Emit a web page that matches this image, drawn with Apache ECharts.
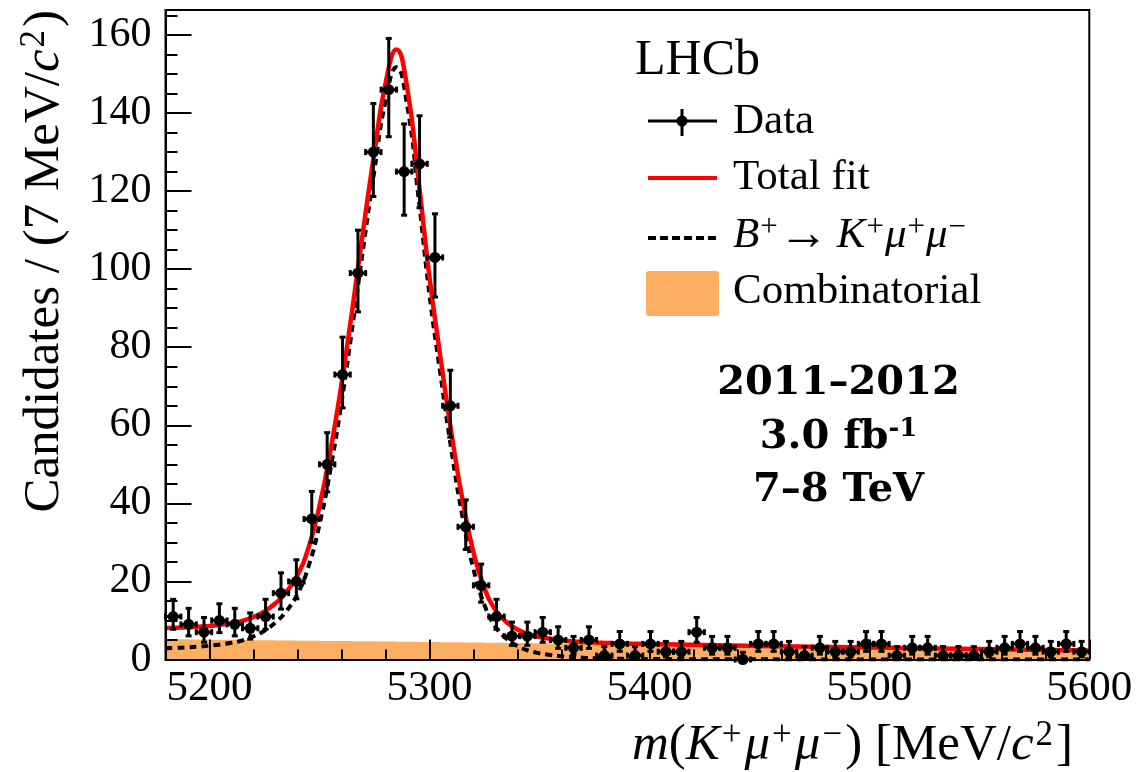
<!DOCTYPE html>
<html>
<head>
<meta charset="utf-8">
<script src="https://cdn.jsdelivr.net/npm/echarts@6/dist/echarts.min.js"></script>
<style>
  html, body { margin: 0; padding: 0; background: #fff; }
  #chart { width: 1138px; height: 772px; }
</style>
</head>
<body>
<div id="chart"></div>
<script>
// Binning of the K+ mu+ mu- invariant mass spectrum
const BIN_LO = 5180;
const BIN_W = 7;

// Candidates per 7 MeV/c^2 bin, starting at 5180 MeV/c^2
const counts = [
  11, 9, 7, 10, 9, 8, 11, 17, 20, 36,
  50, 73, 99, 130, 146, 125, 127, 103, 65, 34,
  19, 11, 6, 6, 7, 5, 3, 5, 1, 4,
  1, 4, 2, 2, 7, 3, 3, 0, 4, 4,
  2, 1, 3, 2, 2, 4, 4, 1, 3, 3,
  1, 1, 1, 2, 3, 4, 3, 2, 4, 2
];

// Fit projections sampled in mass (MeV/c^2)
const fitMass = [
  5180, 5185, 5190, 5195, 5200, 5205, 5210, 5215, 5220, 5225,
  5230, 5235, 5240, 5245, 5250, 5255, 5260, 5265, 5270, 5275,
  5280, 5285, 5290, 5295, 5300, 5305, 5310, 5315, 5320, 5325,
  5330, 5335, 5340, 5345, 5350, 5355, 5360, 5365, 5370, 5375,
  5380, 5385, 5390, 5395, 5400, 5450, 5500, 5550, 5600
];
const fitTotal = [
  8.1, 8.15, 8.25, 8.4, 8.6, 8.9, 9.3, 9.9, 10.9, 12.3,
  14.4, 17.3, 21.6, 28.6, 39.3, 53.5, 70.5, 90.0, 110.5, 130.0,
  147.5, 156.3, 146.0, 123.0, 98.0, 77.5, 58.0, 41.0, 27.5, 18.3,
  12.7, 9.6, 7.7, 6.5, 5.75, 5.3, 4.95, 4.7, 4.5, 4.35,
  4.25, 4.15, 4.08, 4.02, 3.96, 3.47, 3.06, 2.67, 2.3
];
const fitSignal = [
  2.9, 2.98, 3.11, 3.29, 3.52, 3.85, 4.28, 4.91, 5.95, 7.38,
  9.51, 12.44, 16.77, 23.8, 34.53, 48.76, 65.79, 85.32, 105.85, 125.38,
  142.91, 151.74, 141.48, 118.51, 93.54, 73.07, 53.6, 36.63, 23.16, 13.99,
  8.42, 5.35, 3.48, 2.31, 1.59, 1.17, 0.86, 0.64, 0.47, 0.35,
  0.28, 0.21, 0.17, 0.14, 0.11, 0.04, 0.01, 0.0, 0.0
];
const fitComb = [
  5.20, 5.17, 5.14, 5.11, 5.08, 5.05, 5.02, 4.99, 4.95, 4.92,
  4.89, 4.86, 4.83, 4.80, 4.77, 4.74, 4.71, 4.68, 4.65, 4.62,
  4.59, 4.56, 4.52, 4.49, 4.46, 4.43, 4.40, 4.37, 4.34, 4.31,
  4.28, 4.25, 4.22, 4.19, 4.16, 4.13, 4.09, 4.06, 4.03, 4.00,
  3.97, 3.94, 3.91, 3.88, 3.85, 3.43, 3.05, 2.67, 2.3
];

// Axis ticks
const xTicks = [5200, 5300, 5400, 5500, 5600];
const yTicks = [0, 20, 40, 60, 80, 100, 120, 140, 160];
const X_MIN = 5180, X_MAX = 5600, Y_MAX = 166.4;

const xMinor = [];
for (let v = X_MIN; v <= X_MAX; v += 20) if (xTicks.indexOf(v) < 0) xMinor.push(v);
const yMinor = [];
for (let v = 5; v < Y_MAX; v += 5) if (yTicks.indexOf(v) < 0) yMinor.push(v);

// Central 68.3% Poisson interval for an observed count
function poissonCdf(k, mu) {
  let term = Math.exp(-mu), sum = term;
  for (let i = 1; i <= k; i++) { term *= mu / i; sum += term; }
  return sum;
}
function solveMu(k, target) {
  let a = 0, b = k + 12 * Math.sqrt(k + 1) + 10;
  for (let it = 0; it < 80; it++) {
    const c = 0.5 * (a + b);
    if (poissonCdf(k, c) > target) a = c; else b = c;
  }
  return 0.5 * (a + b);
}
function poissonInterval(n) {
  const alpha = 0.1586553;
  const hi = solveMu(n, alpha);
  const lo = n > 0 ? solveMu(n - 1, 1 - alpha) : 0;
  return [lo, hi];
}

const dataPoints = counts.map((n, i) => {
  const m = BIN_LO + BIN_W * (i + 0.5);
  const iv = poissonInterval(n);
  return [m, n, iv[0], iv[1]];
});

const curve = (ys) => fitMass.map((m, i) => [m, ys[i]]);

const SERIF = 'Liberation Serif';
const ORANGE = '#fcae62';

const chart = echarts.init(document.getElementById('chart'), null, { renderer: 'canvas' });

// axes sit above the filled background so the inner ticks stay visible
const axisCommon = {
  type: 'value',
  z: 10,
  splitLine: { show: false },
  axisPointer: { show: false }
};

const titleRich = {
  a: { fontFamily: SERIF, fontSize: 51, lineHeight: 56, color: '#000' },
  i: { fontFamily: SERIF, fontSize: 51, lineHeight: 56, fontStyle: 'italic', color: '#000' },
  s: { fontFamily: SERIF, fontSize: 35, lineHeight: 34, verticalAlign: 'top', padding: [0, 3, 0, 2], color: '#000' }
};
const legRich = {
  a: { fontFamily: SERIF, fontSize: 43, lineHeight: 48, color: '#000' },
  i: { fontFamily: SERIF, fontSize: 43, lineHeight: 48, fontStyle: 'italic', color: '#000' },
  r: { fontFamily: SERIF, fontSize: 50, lineHeight: 48, padding: [0, 8, 0, 0], color: '#000' },
  s: { fontFamily: SERIF, fontSize: 31, lineHeight: 31, verticalAlign: 'top', padding: [0, 1, 0, 1], color: '#000' }
};

const option = {
  animation: false,
  backgroundColor: '#fff',
  grid: {
    left: 165.5, right: 48.7, top: 10, bottom: 112.5,
    show: true, borderColor: '#000', borderWidth: 2, backgroundColor: 'transparent'
  },
  xAxis: [
    Object.assign({}, axisCommon, {
      min: X_MIN, max: X_MAX,
      axisLine: { show: true, onZero: false, lineStyle: { color: '#000', width: 2 } },
      axisTick: { show: true, inside: true, length: 20, customValues: xTicks, lineStyle: { color: '#000', width: 2 } },
      axisLabel: {
        show: true, customValues: xTicks, margin: 8,
        fontFamily: SERIF, fontSize: 43, color: '#000',
        formatter: (v) => String(v)
      }
    }),
    Object.assign({}, axisCommon, {
      min: X_MIN, max: X_MAX, position: 'bottom',
      axisLine: { show: false },
      axisTick: { show: true, inside: true, length: 10, customValues: xMinor, lineStyle: { color: '#000', width: 2 } },
      axisLabel: { show: false }
    })
  ],
  yAxis: [
    Object.assign({}, axisCommon, {
      min: 0, max: Y_MAX,
      axisLine: { show: true, onZero: false, lineStyle: { color: '#000', width: 2 } },
      axisTick: { show: true, inside: true, length: 26, customValues: yTicks, lineStyle: { color: '#000', width: 2 } },
      axisLabel: {
        show: true, customValues: yTicks, margin: 14,
        fontFamily: SERIF, fontSize: 42, color: '#000',
        formatter: (v) => String(v)
      }
    }),
    Object.assign({}, axisCommon, {
      min: 0, max: Y_MAX, position: 'left',
      axisLine: { show: false },
      axisTick: { show: true, inside: true, length: 12, customValues: yMinor, lineStyle: { color: '#000', width: 2 } },
      axisLabel: { show: false }
    })
  ],
  series: [
    {
      name: 'Combinatorial', type: 'line', data: curve(fitComb),
      smooth: 0.5, symbol: 'none', z: 1,
      lineStyle: { width: 0 },
      areaStyle: { color: ORANGE, opacity: 1, origin: 'start' }
    },
    {
      name: 'B+ -> K+ mu+ mu-', type: 'line', data: curve(fitSignal),
      smooth: 0.5, symbol: 'none', z: 2,
      lineStyle: { color: '#000', width: 4, type: [7, 5] }
    },
    {
      name: 'Total fit', type: 'line', data: curve(fitTotal),
      smooth: 0.5, symbol: 'none', z: 3,
      lineStyle: { color: '#ff0000', width: 4.5 }
    },
    {
      name: 'Data', type: 'custom', z: 4,
      data: dataPoints,
      encode: { x: 0, y: 1 },
      renderItem: function (params, api) {
        const m = api.value(0), n = api.value(1), lo = api.value(2), hi = api.value(3);
        const c = api.coord([m, n]);
        const yLo = api.coord([m, lo])[1];
        const yHi = api.coord([m, hi])[1];
        const xl = api.coord([m - BIN_W / 2, n])[0];
        const xr = api.coord([m + BIN_W / 2, n])[0];
        const st = { stroke: '#000', lineWidth: 3 };
        const seg = (x1, y1, x2, y2) => ({ type: 'line', shape: { x1, y1, x2, y2 }, style: st });
        const cap = 3;
        return {
          type: 'group',
          children: [
            seg(c[0], yHi, c[0], yLo),
            seg(xl, c[1], xr, c[1]),
            seg(c[0] - cap, yHi, c[0] + cap, yHi),
            seg(c[0] - cap, yLo, c[0] + cap, yLo),
            seg(xl, c[1] - cap, xl, c[1] + cap),
            seg(xr, c[1] - cap, xr, c[1] + cap),
            { type: 'circle', shape: { cx: c[0], cy: c[1], r: 5.5 }, style: { fill: '#000' } }
          ]
        };
      }
    }
  ],
  graphic: [
    // axis titles
    {
      type: 'text', x: 45, y: 10, rotation: Math.PI / 2, z: 10,
      style: {
        text: '{a|Candidates / (7 MeV/}{i|c}{s|2}{a|)}',
        rich: titleRich, align: 'right', verticalAlign: 'middle'
      }
    },
    {
      type: 'text', x: 1073, y: 746, z: 10,
      style: {
        text: '{i|m}{a|(}{i|K}{s|+}{i|μ}{s|+}{i|μ}{s|−}{a|) [MeV/}{i|c}{s|2}{a|]}',
        rich: titleRich, align: 'right', verticalAlign: 'middle'
      }
    },
    // legend
    {
      type: 'text', x: 635, y: 60.5, z: 10,
      style: { text: 'LHCb', fontFamily: SERIF, fontSize: 50, fill: '#000', align: 'left', verticalAlign: 'middle' }
    },
    { type: 'line', z: 10, shape: { x1: 648, y1: 121, x2: 717, y2: 121 }, style: { stroke: '#000', lineWidth: 3 } },
    { type: 'line', z: 10, shape: { x1: 682, y1: 109, x2: 682, y2: 136 }, style: { stroke: '#000', lineWidth: 3 } },
    { type: 'circle', z: 10, shape: { cx: 682, cy: 121, r: 5.5 }, style: { fill: '#000' } },
    {
      type: 'text', x: 733, y: 121.5, z: 10,
      style: { text: 'Data', fontFamily: SERIF, fontSize: 43, fill: '#000', align: 'left', verticalAlign: 'middle' }
    },
    { type: 'line', z: 10, shape: { x1: 648, y1: 178, x2: 717, y2: 178 }, style: { stroke: '#ff0000', lineWidth: 4 } },
    {
      type: 'text', x: 733, y: 178, z: 10,
      style: { text: 'Total fit', fontFamily: SERIF, fontSize: 43, fill: '#000', align: 'left', verticalAlign: 'middle' }
    },
    { type: 'line', z: 10, shape: { x1: 648, y1: 238, x2: 717, y2: 238 }, style: { stroke: '#000', lineWidth: 4, lineDash: [8, 4] } },
    {
      type: 'text', x: 733, y: 236, z: 10,
      style: {
        text: '{i|B}{s|+}{r|→}{i|K}{s|+}{i|μ}{s|+}{i|μ}{s|−}',
        rich: legRich, align: 'left', verticalAlign: 'middle'
      }
    },
    { type: 'rect', z: 10, shape: { x: 646, y: 271, width: 73, height: 45, r: 3 }, style: { fill: ORANGE } },
    {
      type: 'text', x: 733, y: 292, z: 10,
      style: { text: 'Combinatorial', fontFamily: SERIF, fontSize: 43, fill: '#000', align: 'left', verticalAlign: 'middle' }
    },
    // dataset annotation
    {
      type: 'text', x: 838.5, y: 384, z: 10,
      style: { text: '2011–2012', fontFamily: 'DejaVu Serif', fontWeight: 'bold', fontSize: 40, fill: '#000', align: 'center', verticalAlign: 'middle' }
    },
    {
      type: 'text', x: 838.5, y: 438, z: 10,
      style: {
        text: '{b|3.0 fb}{s|-1}',
        rich: {
          b: { fontFamily: 'DejaVu Serif', fontWeight: 'bold', fontSize: 40, lineHeight: 44, color: '#000' },
          s: { fontFamily: 'DejaVu Serif', fontWeight: 'bold', fontSize: 26, lineHeight: 26, verticalAlign: 'top', color: '#000' }
        },
        align: 'center', verticalAlign: 'middle'
      }
    },
    {
      type: 'text', x: 838.5, y: 491, z: 10,
      style: { text: '7–8 TeV', fontFamily: 'DejaVu Serif', fontWeight: 'bold', fontSize: 40, fill: '#000', align: 'center', verticalAlign: 'middle' }
    }
  ]
};

chart.setOption(option);
</script>
</body>
</html>
